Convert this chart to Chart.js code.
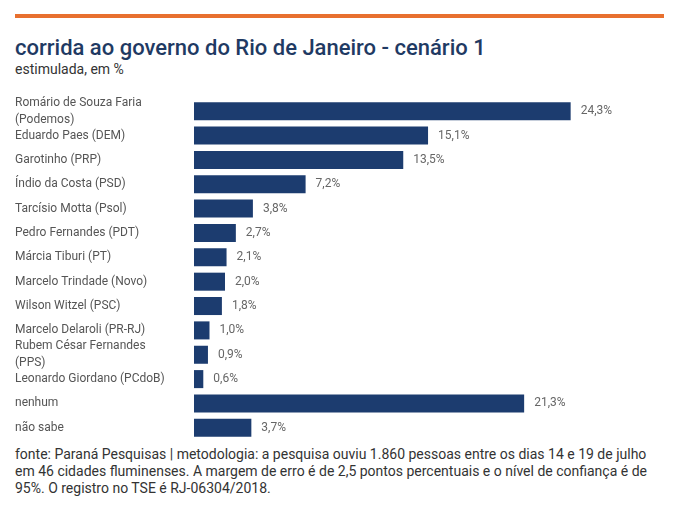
<!DOCTYPE html>
<html>
<head>
<meta charset="utf-8">
<script src="https://cdn.jsdelivr.net/npm/chart.js@4"></script>
<style>
  body { margin: 0; background: #fff; font-family: Roboto, sans-serif; }
  #wrap { position: relative; width: 676px; height: 505px; overflow: hidden; }
  #topline { position: absolute; left: 15px; top: 14px; width: 649px; height: 4px; background: #e8702f; }
  #title { position: absolute; left: 15px; top: 35px; font-size: 22px; font-weight: 500; color: #1f3a63; white-space: nowrap; }
  #subtitle { position: absolute; left: 15px; top: 61px; font-size: 14px; color: #333; }
  #chartBox { position: absolute; left: 0; top: 80px; width: 676px; height: 361px; }
  #footer { position: absolute; left: 15px; top: 446px; font-size: 14px; line-height: 17px; color: #333; white-space: nowrap; }
</style>
</head>
<body>
<div id="wrap">
  <div id="topline"></div>
  <div id="title">corrida ao governo do Rio de Janeiro - cenário 1</div>
  <div id="subtitle">estimulada, em %</div>
  <div id="chartBox"><canvas id="pollChart"></canvas></div>
  <div id="footer">fonte: Paraná Pesquisas | metodologia: a pesquisa ouviu 1.860 pessoas entre os dias 14 e 19 de julho<br>em 46 cidades fluminenses. A margem de erro é de 2,5 pontos percentuais e o nível de confiança é de<br>95%. O registro no TSE é RJ-06304/2018.</div>
</div>
<script>
const candidates = [
  ['Romário de Souza Faria', '(Podemos)'],
  'Eduardo Paes (DEM)',
  'Garotinho (PRP)',
  'Índio da Costa (PSD)',
  'Tarcísio Motta (Psol)',
  'Pedro Fernandes (PDT)',
  'Márcia Tiburi (PT)',
  'Marcelo Trindade (Novo)',
  'Wilson Witzel (PSC)',
  'Marcelo Delaroli (PR-RJ)',
  ['Rubem César Fernandes', '(PPS)'],
  'Leonardo Giordano (PCdoB)',
  'nenhum',
  'não sabe'
];
const votes = [24.3, 15.1, 13.5, 7.2, 3.8, 2.7, 2.1, 2.0, 1.8, 1.0, 0.9, 0.6, 21.3, 3.7];

const barColor = '#1c3c6f';

// draws "24,3%" next to each bar
const valueLabels = {
  id: 'valueLabels',
  afterDatasetsDraw(chart) {
    const ctx = chart.ctx;
    const meta = chart.getDatasetMeta(0);
    ctx.save();
    ctx.font = '12px Roboto';
    ctx.fillStyle = '#666';
    ctx.textAlign = 'left';
    ctx.textBaseline = 'middle';
    meta.data.forEach((bar, i) => {
      const txt = votes[i].toFixed(1).replace('.', ',') + '%';
      ctx.fillText(txt, bar.x + 10, bar.y);
    });
    ctx.restore();
  }
};

const canvas = document.getElementById('pollChart');

const config = {
  type: 'bar',
  data: {
    labels: candidates,
    datasets: [{
      data: votes,
      backgroundColor: barColor,
      borderWidth: 0,
      barPercentage: 0.74,
      categoryPercentage: 1
    }]
  },
  options: {
    indexAxis: 'y',
    responsive: true,
    maintainAspectRatio: false,
    animation: false,
    layout: { padding: { left: 15, right: 17, top: 19, bottom: 1 } },
    plugins: {
      legend: { display: false },
      tooltip: { enabled: false }
    },
    scales: {
      x: {
        display: false,
        min: 0,
        max: 30
      },
      y: {
        grid: { display: false, drawTicks: false },
        border: { display: false },
        afterFit: (scale) => {
          scale.width = 179;
          // the 2-line labels get room from layout padding instead
          scale.paddingTop = 0;
          scale.paddingBottom = 0;
        },
        ticks: {
          autoSkip: false,
          crossAlign: 'far',
          padding: 0,
          color: '#555',
          font: { family: 'Roboto', size: 12, lineHeight: 1.4 }
        }
      }
    }
  },
  plugins: [valueLabels]
};

new Chart(canvas, config);
</script>
</body>
</html>
